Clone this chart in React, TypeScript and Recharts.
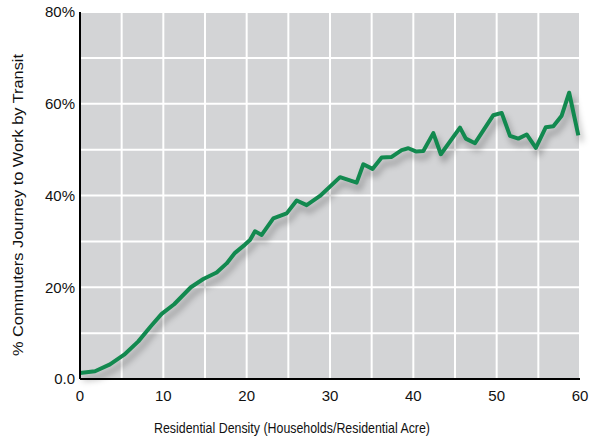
import { LineChart, Line, XAxis, YAxis, CartesianGrid } from 'recharts';

// values
const density = [
  0, 1.8, 3.6, 5.3, 7.0, 8.5, 9.8, 11.3, 13.3, 14.8, 16.4, 17.6, 18.6, 19.8, 20.4,
  21.0, 21.8, 23.2, 24.8, 26.0, 27.2, 28.8, 31.2, 33.2, 34.0, 35.1, 36.2, 37.4,
  38.6, 39.4, 40.3, 41.2, 42.4, 43.3, 45.6, 46.3, 47.4, 49.6, 50.6, 51.6, 52.6,
  53.6, 54.7, 55.9, 56.8, 57.8, 58.7, 59.8,
];
const transitShare = [
  1.3, 1.7, 3.2, 5.3, 8.2, 11.5, 14.2, 16.3, 20.0, 21.8, 23.2, 25.2, 27.5, 29.3, 30.3,
  32.2, 31.4, 35.0, 36.1, 38.9, 37.9, 39.9, 44.0, 42.8, 46.8, 45.8, 48.3, 48.4,
  49.9, 50.3, 49.6, 49.7, 53.6, 49.0, 54.8, 52.4, 51.4, 57.5, 58.0, 53.0, 52.4,
  53.3, 50.4, 54.9, 55.1, 57.4, 62.4, 53.1,
];
const xTicks = [0, 5, 10, 15, 20, 25, 30, 35, 40, 45, 50, 55, 60];
const yTicks = [0, 10, 20, 30, 40, 50, 60, 70, 80];

const data = density.map((d, i) => ({ density: d, share: transitShare[i] }));

const font = '"Liberation Sans", Arial, sans-serif';

export default function App() {
  return (
    <div>
      <style>{`
        body { margin: 0; }
        .recharts-line-curve { filter: drop-shadow(3px 6px 3px rgba(0,0,0,0.3)); }
      `}</style>
      <LineChart
        width={591}
        height={440}
        data={data}
        margin={{ top: 12, right: 11, bottom: 0, left: 0 }}
        style={{ fontFamily: font }}
      >
        <CartesianGrid
          fill="#d3d4d6"
          fillOpacity={1}
          stroke="#ffffff"
          strokeWidth={2}
        />
        <XAxis
          dataKey="density"
          type="number"
          domain={[0, 60]}
          ticks={xTicks}
          interval={0}
          height={61}
          tickLine={false}
          tickSize={0}
          tickMargin={11}
          axisLine={{ stroke: '#000', strokeWidth: 2 }}
          tick={{ fill: '#111', fontSize: 15 }}
          tickFormatter={(v: number) => (v % 10 === 0 ? String(v) : '')}
          label={{
            content: () => (
              <text
                x={292}
                y={433}
                textAnchor="middle"
                fill="#111"
                fontSize={15}
                textLength={276}
                lengthAdjust="spacingAndGlyphs"
              >
                Residential Density (Households/Residential Acre)
              </text>
            ),
          }}
        />
        <YAxis
          type="number"
          domain={[0, 80]}
          ticks={yTicks}
          interval={0}
          width={80}
          tickLine={false}
          tickSize={0}
          tickMargin={5}
          axisLine={{ stroke: '#000', strokeWidth: 2 }}
          tick={{ fill: '#111', fontSize: 15 }}
          tickFormatter={(v: number) => (v === 0 ? '0.0' : v % 20 === 0 ? `${v}%` : '')}
          label={{
            content: () => (
              <text
                x={23}
                y={205}
                transform="rotate(-90 23 205)"
                textAnchor="middle"
                fill="#111"
                fontSize={15}
                textLength={302}
                lengthAdjust="spacingAndGlyphs"
              >
                % Commuters Journey to Work by Transit
              </text>
            ),
          }}
        />
        <Line
          type="linear"
          dataKey="share"
          stroke="#12894f"
          strokeWidth={4}
          strokeLinejoin="round"
          dot={false}
          activeDot={false}
          isAnimationActive={false}
        />
      </LineChart>
    </div>
  );
}
